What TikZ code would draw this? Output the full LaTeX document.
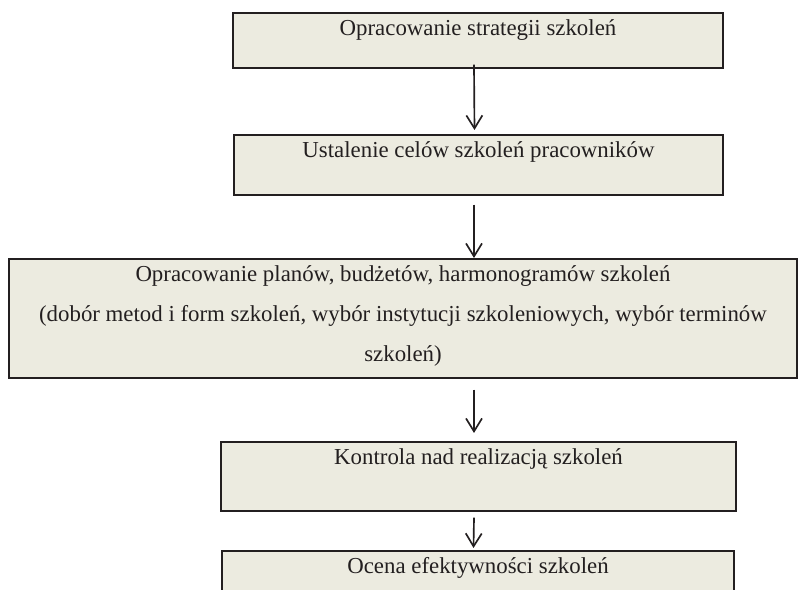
\documentclass[tikz,border=0pt]{standalone}
\usepackage{fontspec}
\setmainfont{Liberation Serif}
\usepackage{xcolor}
\usetikzlibrary{arrows.meta,calc,positioning}
\definecolor{boxfill}{RGB}{236,235,224}
\definecolor{inkgray}{RGB}{35,31,32}

\begin{document}
\begin{tikzpicture}[
  every node/.style={font=\fontsize{13}{15}\selectfont,align=center,text=inkgray},
  flow/.style={-{Straight Barb[length=2.6mm,width=3.2mm]},line width=0.95pt,draw=inkgray},
  stagebox/.style={draw=inkgray,fill=boxfill,line width=0.9pt,anchor=north,
                   inner xsep=4pt,inner ysep=0pt,text height=0.46cm}
]
  \useasboundingbox (0,0) rectangle (15.98,11.80);
  \clip (0,0) rectangle (15.98,11.80);

  \node[stagebox,minimum width=9.80cm,text depth=0.64cm] (strat) at (9.56,11.56)
    {Opracowanie strategii szkoleń};
  \node[stagebox,minimum width=9.78cm,text depth=0.74cm] (cele) at (9.57,9.12)
    {Ustalenie celów szkoleń pracowników};
  % three lines: the node baseline sits on the last one
  \node[stagebox,minimum width=15.76cm,text height=2.06cm,text depth=0.32cm,
        font=\fontsize{13}{22.8}\selectfont] (plany) at (8.06,6.64)
    {Opracowanie planów, budżetów, harmonogramów szkoleń\\
     (dobór metod i form szkoleń, wybór instytucji szkoleniowych, wybór terminów\\
     szkoleń)};
  \node[stagebox,minimum width=10.30cm,text depth=0.92cm] (kontrola) at (9.57,2.98)
    {Kontrola nad realizacją szkoleń};
  \node[stagebox,minimum width=10.24cm,text depth=0.80cm] (ocena) at (9.56,0.80)
    {Ocena efektywności szkoleń};

  \draw[flow] ([xshift=-0.08cm,yshift=0.08cm]strat.south)
    -- ([xshift=-0.08cm,yshift=0.08cm]cele.north);
  \draw[flow] ([xshift=-0.09cm,yshift=-0.18cm]cele.south)
    -- ([xshift=-0.09cm]cele.south |- plany.north);
  \draw[flow] ([yshift=-0.22cm]plany.south -| kontrola.north) ++(-0.09,0)
    -- ([xshift=-0.09cm,yshift=0.16cm]kontrola.north);
  \draw[flow] ([xshift=-0.09cm,yshift=-0.12cm]kontrola.south)
    -- ([xshift=-0.09cm,yshift=0.04cm]ocena.north);
\end{tikzpicture}
\end{document}
